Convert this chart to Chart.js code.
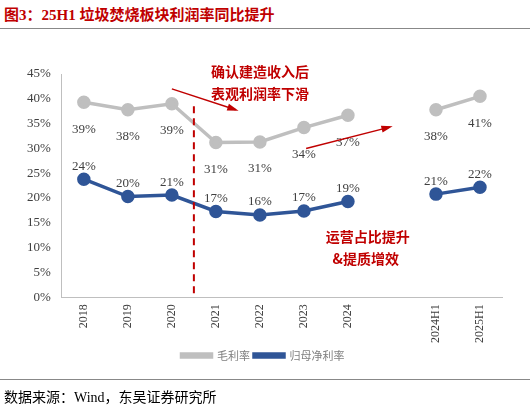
<!DOCTYPE html>
<html><head><meta charset="utf-8">
<script src="https://cdn.jsdelivr.net/npm/chart.js@4"></script>
<style>
body{margin:0;width:530px;height:413px;position:relative;background:#fff;overflow:hidden}
#t{position:absolute;left:4px;top:3px;font:bold 15px "Liberation Serif","Noto Sans CJK SC";color:#c00000}
#l1{position:absolute;left:0;right:0;top:28px;border-top:1.5px solid #888}
#l2{position:absolute;left:0;right:0;top:379px;border-top:1.5px solid #888}
#s{position:absolute;left:4px;top:386px;font:14px "Liberation Serif","Noto Sans CJK SC";color:#000}
canvas{position:absolute;left:0;top:0}
</style></head><body>
<div id="t">图3：25H1 垃圾焚烧板块利润率同比提升</div>
<div id="l1"></div>
<canvas id="c" width="530" height="413"></canvas>
<div id="l2"></div>
<div id="s">数据来源：Wind，东吴证券研究所</div>
<script>
const categories=["2018","2019","2020","2021","2022","2023","2024","","2024H1","2025H1"];
const grossMargin=[39.3,37.8,39.0,31.2,31.3,34.2,36.7,null,37.8,40.5];
const netMargin=[23.8,20.3,20.6,17.3,16.6,17.4,19.3,null,20.8,22.2];
const grossLabels=["39%","38%","39%","31%","31%","34%","37%","","38%","41%"];
const netLabels=["24%","20%","21%","17%","16%","17%","19%","","21%","22%"];
const RED="#c00000";
const ann={id:"ann",afterDatasetsDraw(ch){
 const c=ch.ctx,x=ch.scales.x,y=ch.scales.y;
 c.save();
 c.font='13px "Liberation Serif"';c.fillStyle="#404040";c.textAlign="center";
 ch.data.datasets.forEach((d,i)=>{const labs=i?netLabels:grossLabels;
  d.data.forEach((v,j)=>{if(v==null)return;c.fillText(labs[j],x.getPixelForValue(j),y.getPixelForValue(v)+(i?-13:27));});});
 c.strokeStyle=RED;c.lineWidth=2;c.setLineDash([7,5]);
 const xd=x.getPixelForValue(2.5);
 c.beginPath();c.moveTo(xd,y.getPixelForValue(38.5));c.lineTo(xd,y.getPixelForValue(0));c.stroke();
 c.setLineDash([]);
 function arrow(a,b,p,q){const x1=x.getPixelForValue(a),y1=y.getPixelForValue(b),x2=x.getPixelForValue(p),y2=y.getPixelForValue(q);
  c.strokeStyle=RED;c.fillStyle=RED;c.lineWidth=1.5;c.beginPath();c.moveTo(x1,y1);c.lineTo(x2,y2);c.stroke();
  const an=Math.atan2(y2-y1,x2-x1);c.beginPath();c.moveTo(x2+3*Math.cos(an),y2+3*Math.sin(an));
  c.lineTo(x2-9*Math.cos(an-0.4),y2-9*Math.sin(an-0.4));c.lineTo(x2-9*Math.cos(an+0.4),y2-9*Math.sin(an+0.4));c.fill();}
 arrow(2.0,42.0,3.45,37.8);
 arrow(5.05,30.0,6.95,34.3);
 c.fillStyle=RED;c.font='bold 14px "Noto Sans CJK SC"';c.textAlign="center";
 c.fillText("确认建造收入后",x.getPixelForValue(4.0),y.getPixelForValue(45.5));
 c.fillText("表观利润率下滑",x.getPixelForValue(4.0),y.getPixelForValue(41.0));
 c.fillText("运营占比提升",x.getPixelForValue(6.45),y.getPixelForValue(12.3));
 c.textAlign="left";
 c.fillText("&提质增效",x.getPixelForValue(5.65),y.getPixelForValue(7.8));
 c.restore();}};
new Chart(document.getElementById("c"),{type:"line",
 data:{labels:categories,datasets:[
  {label:"毛利率",data:grossMargin,borderColor:"#bfbfbf",backgroundColor:"#bfbfbf",borderWidth:3.5,pointRadius:5,pointHoverRadius:5,spanGaps:false},
  {label:"归母净利率",data:netMargin,borderColor:"#2f5597",backgroundColor:"#2f5597",borderWidth:3.5,pointRadius:5,pointHoverRadius:5,spanGaps:false}]},
 options:{responsive:false,animation:false,devicePixelRatio:1,
  layout:{padding:{left:24,right:28,top:74,bottom:42}},
  plugins:{legend:{position:"bottom",labels:{boxWidth:30,boxHeight:3,font:{size:11,family:"Noto Sans CJK SC"},color:"#7f7f7f",padding:4}},tooltip:{enabled:false}},
  scales:{
   x:{offset:true,grid:{display:false,tickLength:4},border:{color:"#bfbfbf"},ticks:{minRotation:90,maxRotation:90,font:{size:12,family:"Liberation Serif"},color:"#404040"}},
   y:{min:0,max:45,grid:{display:false},border:{color:"#bfbfbf"},ticks:{stepSize:5,callback:v=>v+"%",font:{size:13,family:"Liberation Serif"},color:"#404040"}}}}
 ,plugins:[ann]});
</script></body></html>
